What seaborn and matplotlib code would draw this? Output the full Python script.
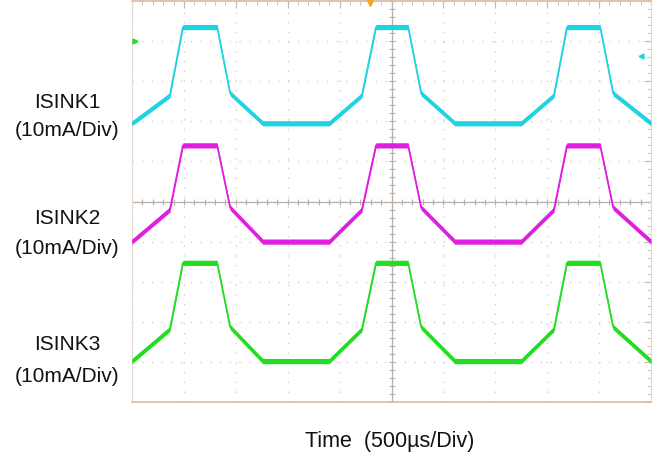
import numpy as np
import pandas as pd
import seaborn as sns
import matplotlib
matplotlib.use("Agg")
import matplotlib.pyplot as plt

# scope capture: three LED sink currents, 10 mA/div, 500 us/div
TIME_US = [0, 365, 490, 820, 945, 1260, 1900, 2215, 2350, 2660, 2785, 3110,
           3750, 4065, 4190, 4510, 4635, 5000]
ISINK1 = [0, 7, 24, 24, 7.5, 0, 0, 7, 24, 24, 7.5, 0, 0, 7, 24, 24, 7.5, 0]
ISINK2 = [0, 8, 24, 24, 8.5, 0, 0, 8, 24, 24, 8.5, 0, 0, 8, 24, 24, 8.5, 0]
ISINK3 = [0, 8, 24.5, 24.5, 8.5, 0, 0, 8, 24.5, 24.5, 8.5, 0, 0, 8, 24.5, 24.5, 8.5, 0]
CHANNELS = ["ISINK1", "ISINK2", "ISINK3"]
OFFSETS_DIV = [1.95, -1.0, -3.98]   # channel position on screen
MA_PER_DIV = 10
US_PER_DIV = 500
TRIGGER_US = 2290
COLORS = ["#1fd3e2", "#e01ee0", "#22dd22"]

frames = []
for name, vals, off in zip(CHANNELS, [ISINK1, ISINK2, ISINK3], OFFSETS_DIV):
    frames.append(pd.DataFrame({"t": TIME_US,
                                "y": off + np.array(vals) / MA_PER_DIV,
                                "ch": name}))
df = pd.concat(frames, ignore_index=True)

sns.set_style("white")
plt.rcParams["font.family"] = ["Liberation Sans", "DejaVu Sans"]

fig = plt.figure(figsize=(6.65, 4.62), dpi=100)
ax = fig.add_axes([132 / 665, 60 / 462, 519 / 665, 401 / 462])

# graticule
grid_c = "#cfcfcf"
for gx in range(0, 5001, US_PER_DIV):
    ax.axvline(gx, color=grid_c, lw=1, ls=(0, (1, 6)), zorder=0)
for gy in range(-5, 6):
    ax.axhline(gy, color=grid_c, lw=1, ls=(0, (1, 6)), zorder=0)
ax.axhline(0, color="#b8b0a8", lw=0.9, zorder=0)
ax.axvline(2500, color="#b8b0a8", lw=0.9, zorder=0)
ax.plot(np.arange(0, 5001, 100), np.zeros(51), ls="none", marker="|",
        ms=4, mew=0.8, color="#b8b0a8", zorder=0)
ax.plot(np.full(51, 2500), np.arange(-5, 5.01, 0.2), ls="none", marker="_",
        ms=4, mew=0.8, color="#b8b0a8", zorder=0)

# traces (band mimics the scope noise)
sns.lineplot(data=df, x="t", y="y", hue="ch", palette=COLORS, lw=1.2,
             legend=False, ax=ax, zorder=3)
for (name, g), c in zip(df.groupby("ch", sort=False), COLORS):
    ax.fill_between(g["t"], g["y"] - 0.065, g["y"] + 0.065, color=c, lw=0,
                    zorder=3)

# trigger and channel markers
ax.plot([TRIGGER_US], [4.95], marker="v", ms=5, color="#f5a623",
        clip_on=False, zorder=5)
ax.plot([30], [4.0], marker=">", ms=3.5, color="#22dd22", clip_on=False, zorder=5)
ax.plot([4900], [3.63], marker="<", ms=3.5, color="#1fd3e2", clip_on=False, zorder=5)

ax.set_xlim(0, 5000)
ax.set_ylim(-5, 5)
ax.set_xticks(np.arange(0, 5001, 500))
ax.set_xticks(np.arange(0, 5001, 100), minor=True)
ax.set_yticks(np.arange(-5, 6, 1))
ax.set_yticks(np.arange(-5, 5.01, 0.2), minor=True)
ax.tick_params(which="both", direction="in", top=True, right=True,
               labelbottom=False, labelleft=False, color="#c9b8aa")
ax.tick_params(which="major", length=5, width=0.8)
ax.tick_params(which="minor", length=3, width=0.6)
ax.set_xlabel("")
ax.set_ylabel("")
for side in ["top", "bottom"]:
    ax.spines[side].set_color("#dcb9a4")
    ax.spines[side].set_linewidth(1.2)
for side in ["left", "right"]:
    ax.spines[side].set_color("#e4dcd4")
    ax.spines[side].set_linewidth(0.8)

# channel labels
label_y = [(102, 130), (218, 249), (344, 376)]
for name, (y1, y2) in zip(CHANNELS, label_y):
    fig.text(67 / 665, 1 - y1 / 462, name, ha="center", va="center",
             fontsize=15, color="#111111")
    fig.text(67 / 665, 1 - y2 / 462, "(10mA/Div)", ha="center", va="center",
             fontsize=15, color="#111111")
fig.text(390 / 665, 1 - 442 / 462, "Time  (500µs/Div)", ha="center",
         va="center", fontsize=15.5, color="#111111")

fig.savefig("out.png", dpi=100)
